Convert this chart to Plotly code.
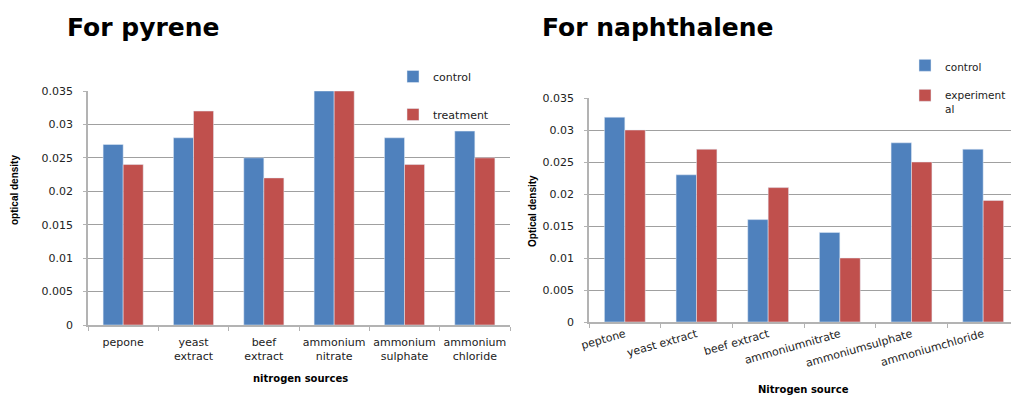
import plotly.graph_objects as go

# page body has an 8px margin, so the figure is drawn in reference pixels offset by 8
OFF = 8
W, H = 1019 - OFF, 396 - OFF

# ---- data ----
pyrene_cats = ["pepone", "yeast<br>extract", "beef<br>extract", "ammonium<br>nitrate",
               "ammonium<br>sulphate", "ammonium<br>chloride"]
pyrene_control = [0.027, 0.028, 0.025, 0.035, 0.028, 0.029]
pyrene_treatment = [0.024, 0.032, 0.022, 0.035, 0.024, 0.025]

naph_cats = ["peptone", "yeast extract", "beef extract", "ammoniumnitrate",
             "ammoniumsulphate", "ammoniumchloride"]
naph_control = [0.032, 0.023, 0.016, 0.014, 0.028, 0.027]
naph_experimental = [0.030, 0.027, 0.021, 0.010, 0.025, 0.019]

y_ticks = [0, 0.005, 0.01, 0.015, 0.02, 0.025, 0.03, 0.035]
y_tick_text = ["0", "0.005", "0.01", "0.015", "0.02", "0.025", "0.03", "0.035"]

BLUE = "#4F81BD"
RED = "#C0504D"
GRID = "#A0A0A0"
AXIS = "#B3B3B3"
FONT = "DejaVu Sans"
NARROW = "Liberation Sans Narrow, Arial Narrow, Liberation Sans"


def px_x(x):
    return (x - OFF) / W


def px_y(y):
    return 1 - (y - OFF) / H


fig = go.Figure()

fig.add_trace(go.Bar(x=pyrene_cats, y=pyrene_control, name="control", marker_color=BLUE,
                     xaxis="x", yaxis="y", legend="legend", legendgroup="a"))
fig.add_trace(go.Bar(x=pyrene_cats, y=pyrene_treatment, name="treatment", marker_color=RED,
                     xaxis="x", yaxis="y", legend="legend", legendgroup="b"))
fig.add_trace(go.Bar(x=naph_cats, y=naph_control, name="control", marker_color=BLUE,
                     xaxis="x2", yaxis="y2", legend="legend2", legendgroup="c"))
fig.add_trace(go.Bar(x=naph_cats, y=naph_experimental, name="experiment<br>al", marker_color=RED,
                     xaxis="x2", yaxis="y2", legend="legend2", legendgroup="d"))

xaxis_common = dict(
    type="category", showline=True, linecolor=AXIS, linewidth=1.5,
    ticks="outside", tickson="boundaries", ticklen=4, tickcolor=AXIS,
    showgrid=False, tickfont=dict(family=FONT, size=11, color="#222"),
    fixedrange=True, automargin=False,
)
yaxis_common = dict(
    range=[0, 0.035], tickvals=y_ticks, ticktext=y_tick_text,
    showline=True, linecolor=AXIS, linewidth=1.5,
    ticks="outside", ticklen=3, tickcolor=AXIS, ticklabelstandoff=8,
    showgrid=True, gridcolor=GRID, gridwidth=1,
    tickfont=dict(family=FONT, size=11, color="#222"), zeroline=False,
    fixedrange=True, automargin=False,
)

fig.update_layout(
    width=W, height=H,
    margin=dict(l=0, r=0, t=0, b=0, autoexpand=False),
    paper_bgcolor="white", plot_bgcolor="white",
    bargap=0.43, bargroupgap=0, barmode="group",
    xaxis=dict(domain=[px_x(88), px_x(510)], anchor="y", tickangle=0,
               ticklabelstandoff=6, **xaxis_common),
    yaxis=dict(domain=[px_y(325), px_y(91)], anchor="x", **yaxis_common),
    xaxis2=dict(domain=[px_x(589), 1.0], anchor="y2", tickangle=-16, **xaxis_common),
    yaxis2=dict(domain=[px_y(322), px_y(98)], anchor="x2", **yaxis_common),
    legend=dict(x=px_x(393), y=px_y(62), xanchor="left", yanchor="top",
                xref="container", yref="container",
                bgcolor="rgba(0,0,0,0)", traceorder="grouped", tracegroupgap=19,
                font=dict(family=FONT, size=11, color="#222"), itemclick=False),
    legend2=dict(x=px_x(905), y=px_y(52), xanchor="left", yanchor="top",
                 xref="container", yref="container",
                 bgcolor="rgba(0,0,0,0)", traceorder="grouped", tracegroupgap=11,
                 valign="top",
                 font=dict(family=FONT, size=10.5, color="#222"), itemclick=False),
    showlegend=True,
)

annotations = [
    dict(text="<b>For pyrene</b>", x=px_x(65), y=px_y(27), xanchor="left", yanchor="middle",
         font=dict(family=FONT, size=25, color="black")),
    dict(text="<b>For naphthalene</b>", x=px_x(540), y=px_y(27), xanchor="left", yanchor="middle",
         font=dict(family=FONT, size=25, color="black")),
    dict(text="<b>nitrogen sources</b>", x=px_x(300), y=px_y(378), xanchor="center", yanchor="middle",
         font=dict(family=FONT, size=10, color="black")),
    dict(text="<b>Nitrogen source</b>", x=px_x(803), y=px_y(389), xanchor="center", yanchor="middle",
         font=dict(family=FONT, size=10, color="black")),
    dict(text="<b>optical density</b>", x=px_x(14), y=px_y(190), xanchor="center", yanchor="middle",
         textangle=-90, font=dict(family=NARROW, size=10, color="black")),
    dict(text="<b>Optical density</b>", x=px_x(532), y=px_y(211), xanchor="center", yanchor="middle",
         textangle=-90, font=dict(family=NARROW, size=10, color="black")),
]
for a in annotations:
    a.update(xref="paper", yref="paper", showarrow=False)
fig.update_layout(annotations=annotations)

fig.write_html("out.html")
